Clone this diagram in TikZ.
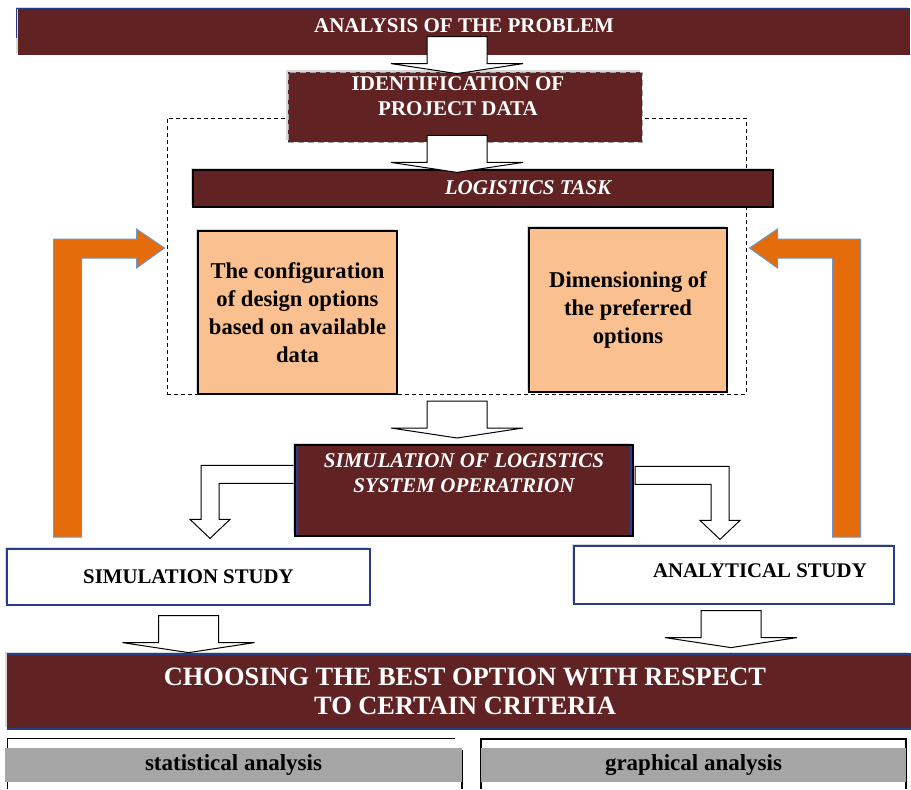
\documentclass[tikz,border=0pt]{standalone}
\usepackage{fontspec}
\setmainfont{Liberation Serif}
\usetikzlibrary{positioning,calc,shadows}

\definecolor{darkred}{RGB}{96,34,34}
\definecolor{peach}{RGB}{250,192,143}
\definecolor{arroworange}{RGB}{228,108,10}
\definecolor{edgeblue}{RGB}{110,150,200}
\definecolor{navy}{RGB}{40,60,140}
\definecolor{bandgray}{RGB}{166,166,166}

\tikzset{
	darkbar/.style={fill=darkred, inner sep=0pt},
	bartext/.style={text=white, align=center, inner sep=0pt, font=\bfseries\fontsize{10.5}{12.5}\selectfont},
	optionbox/.style={draw=black, line width=0.6pt, fill=peach, align=center, inner sep=2pt, font=\bfseries\fontsize{11.3}{14}\selectfont},
	studybox/.style={draw=navy, line width=0.6pt, fill=white, inner sep=0pt, font=\bfseries\fontsize{10.4}{12}\selectfont},
	band/.style={fill=bandgray, inner sep=0pt, font=\bfseries\fontsize{11.5}{13}\selectfont},
	boxshadow/.style={drop shadow={shadow xshift=-0.8pt, shadow yshift=0.8pt, fill=black!30, opacity=0.5}},
	blockarr/.style={draw=black, fill=white, line width=0.5pt},
	orangearr/.style={draw=edgeblue, fill=arroworange, line width=0.5pt},
	blockdown/.pic={\draw[blockarr] (0,0) -- (66,-10) -- (30,-10) -- (30,-37) -- (-30,-37) -- (-30,-10) -- (-66,-10) -- cycle;},
	elbowdown/.pic={\draw[blockarr] (0,0) -- (20,-19) -- (9,-19) -- (9,-55) -- (85,-55) -- (85,-73) -- (-9,-73) -- (-9,-19) -- (-20,-19) -- cycle;},
	feedback/.pic={\draw[orangearr] (0,0) -- (-28,-19) -- (-28,-9) -- (-111,-9) -- (-111,289) -- (-83,289) -- (-83,10) -- (-28,10) -- (-28,20) -- cycle;}
}

\begin{document}
\begin{tikzpicture}[x=0.5pt, y=-0.5pt]
	\useasboundingbox (0,0) rectangle (911,789);

	\node[draw, dash pattern=on 2pt off 1.5pt, line width=0.5pt, minimum width=289.5pt, minimum height=138pt, inner sep=0pt] (task) at (456.5,256) {};

	\node[darkbar, boxshadow, minimum width=446pt, minimum height=23pt, text height=7pt, text depth=7pt, text=white, font=\bfseries\fontsize{10.5}{12.5}\selectfont] (problem) at (464,32) {ANALYSIS OF THE PROBLEM};
	\draw[navy, line width=0.8pt] ($(problem.north west)+(-1,29)$) -- ($(problem.north west)+(-1,0)$) -- (problem.north east);

	\node[darkbar, boxshadow, draw=black!35, densely dashed, line width=0.4pt, minimum width=177pt, minimum height=35pt] (ident) at (465,107) {};
	\node[bartext] (identtxt) at (458,96) {IDENTIFICATION OF\\PROJECT DATA};

	\node[darkbar, boxshadow, draw=black, line width=0.6pt, minimum width=290pt, minimum height=18.5pt] (logistics) at (483,188.5) {};
	\node[bartext, font=\bfseries\itshape\fontsize{10.5}{12.5}\selectfont] (logisticstxt) at (528,188) {LOGISTICS TASK};

	\node[optionbox, boxshadow, minimum width=99.5pt, minimum height=81.5pt] (configure) at (297.5,312.5) {The configuration\\of design options\\based on available\\data};
	\node[optionbox, boxshadow, minimum width=99pt, minimum height=82pt] (dimension) at (628,310) {Dimensioning of\\the preferred\\options};

	\node[studybox, boxshadow, minimum width=181.5pt, minimum height=28pt] (simstudy) at (188.5,577) {SIMULATION STUDY};
	\node[studybox, boxshadow, minimum width=160pt, minimum height=29pt] (anastudy) at (734,575) {};
	\node[studybox, draw=none, fill=none] (anatxt) at (760,571) {ANALYTICAL STUDY};

	\pic at ($(simstudy.north)+(21.5,-10)$) {elbowdown};
	\pic[xscale=-1] at ($(anastudy.north)+(-14,-6)$) {elbowdown};

	\node[darkbar, boxshadow, draw=black, line width=1pt, minimum width=169pt, minimum height=45.5pt] (sim) at (464,490.5) {};
	\draw[navy, line width=1pt] ($(sim.north west)+(3,2)$) -- ($(sim.south west)+(3,-2)$);
	\draw[navy, line width=1pt] ($(sim.north east)+(-3,2)$) -- ($(sim.south east)+(-3,-2)$);
	\node[bartext, font=\bfseries\itshape\fontsize{10.5}{12.5}\selectfont] (simtxt) at (464,473.5) {SIMULATION OF LOGISTICS\\SYSTEM OPERATRION};

	\node[darkbar, boxshadow, minimum width=452pt, minimum height=37.5pt] (choose) at (459,691.5) {};
	\node[bartext, font=\bfseries\fontsize{13.2}{14.5}\selectfont] (choosetxt) at (465,691.5) {CHOOSING THE BEST OPTION WITH RESPECT\\TO CERTAIN CRITERIA};
	\draw[navy, line width=1pt] (choose.north west) -- (choose.north east);
	\draw[navy, line width=1pt] (choose.south west) -- (choose.south east);

	\draw[line width=0.5pt] (7,789) -- (7,738) -- (455,738);
	\draw[line width=1pt] (462,750) -- (462,789);
	\node[band, minimum width=228.5pt, minimum height=17pt] (stat) at (233.5,765) {statistical analysis};
	\draw[line width=0.6pt] (481,789) -- (481,739) -- (906,739) -- (906,789);
	\node[band, minimum width=212.5pt, minimum height=17pt] (graph) at (693.5,765) {graphical analysis};

	\pic at ($(ident.north)+(-8,2)$) {blockdown};
	\pic at ($(logistics.north)+(-26,3)$) {blockdown};
	\pic at ($(sim.north)+(-7,-6)$) {blockdown};
	\pic at ($(simstudy.south)+(0,47)$) {blockdown};
	\pic at ($(anastudy.south)+(-3,43)$) {blockdown};

	\pic at ($(task.west)+(-2,-8)$) {feedback};
	\pic[xscale=-1] at ($(task.east)+(3,-8)$) {feedback};
\end{tikzpicture}
\end{document}
